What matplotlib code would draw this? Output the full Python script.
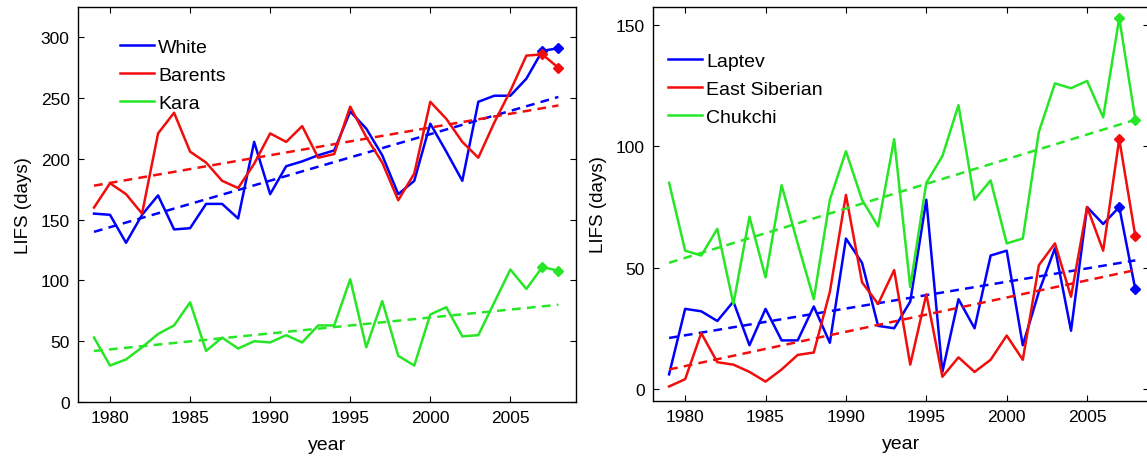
import numpy as np
from matplotlib import pyplot as plt

plt.rcParams['font.family'] = ['Liberation Sans', 'DejaVu Sans']

years = np.arange(1979, 2009)

# left panel
white = [155, 154, 131, 154, 170, 142, 143, 163, 163, 151, 214, 171, 194, 198, 203,
         207, 239, 225, 203, 171, 182, 229, 206, 182, 247, 252, 252, 266, 289, 291]
barents = [160, 180, 171, 155, 221, 238, 206, 197, 182, 176, 196, 221, 214, 227, 201,
           204, 243, 218, 197, 166, 188, 247, 233, 214, 201, 230, 256, 285, 286, 275]
kara = [53, 30, 35, 45, 56, 63, 82, 42, 53, 44, 50, 49, 55, 49, 63,
        63, 101, 45, 83, 38, 30, 72, 78, 54, 55, 82, 109, 93, 111, 108]

# right panel
laptev = [6, 33, 32, 28, 36, 18, 33, 20, 20, 34, 19, 62, 52, 26, 25,
          36, 78, 7, 37, 25, 55, 57, 18, 40, 58, 24, 75, 68, 75, 41]
east_siberian = [1, 4, 23, 11, 10, 7, 3, 8, 14, 15, 40, 80, 44, 35, 49,
                 10, 39, 5, 13, 7, 12, 22, 12, 51, 60, 38, 75, 57, 103, 63]
chukchi = [85, 57, 55, 66, 35, 71, 46, 84, 60, 37, 78, 98, 78, 67, 103,
           42, 85, 96, 117, 78, 86, 60, 62, 106, 126, 124, 127, 112, 153, 111]

# dashed trend lines, values at 1979 and 2008
trend_years = [1979, 2008]
white_trend = [140, 251]
barents_trend = [178, 244]
kara_trend = [42, 80]
laptev_trend = [21, 53]
east_siberian_trend = [8, 49]
chukchi_trend = [52, 111]

BLUE = (0.0, 0.0, 1.0)
RED = (0.95, 0.05, 0.05)
GREEN = (0.15, 0.9, 0.15)


def plot_panel(ax, series, xlim, ylim, yticks, legend_anchor):
    for name, values, trend, color in series:
        ax.plot(years, values, color=color, lw=1.8, label=name)
        ax.plot(years[-2:], values[-2:], ls='none', marker='D', ms=5.5,
                color=color)
        ax.plot(trend_years, trend, color=color, lw=1.8, ls=(0, (3.5, 2.5)))

    ax.set_xlim(xlim)
    ax.set_ylim(ylim)
    ax.set_xticks([1980, 1985, 1990, 1995, 2000, 2005])
    ax.set_yticks(yticks)
    ax.tick_params(direction='in', top=True, right=True, length=4,
                   labelsize=12.5, pad=6)
    for sp in ax.spines.values():
        sp.set_linewidth(1.0)

    ax.set_xlabel('year', fontsize=14, labelpad=8)
    ax.set_ylabel('LIFS (days)', fontsize=13.5, labelpad=6)

    ax.legend(loc='upper left', bbox_to_anchor=legend_anchor,
              frameon=False, fontsize=14, handlelength=1.75,
              handletextpad=0.2, labelspacing=0.53, borderaxespad=0)


fig = plt.figure(figsize=(11.47, 4.6), dpi=100)

ax1 = fig.add_axes([78 / 1147, 57 / 460, 498 / 1147, 395 / 460])
plot_panel(ax1,
           [('White', white, white_trend, BLUE),
            ('Barents', barents, barents_trend, RED),
            ('Kara', kara, kara_trend, GREEN)],
           (1978, 2009.1), (0, 325), [0, 50, 100, 150, 200, 250, 300],
           (0.069, 0.94))

ax2 = fig.add_axes([653 / 1147, 58 / 460, 496 / 1147, 394 / 460])
plot_panel(ax2,
           [('Laptev', laptev, laptev_trend, BLUE),
            ('East Siberian', east_siberian, east_siberian_trend, RED),
            ('Chukchi', chukchi, chukchi_trend, GREEN)],
           (1978, 2008.85), (-5, 157.5), [0, 50, 100, 150],
           (0.015, 0.905))

plt.savefig('out.png', dpi=100)
